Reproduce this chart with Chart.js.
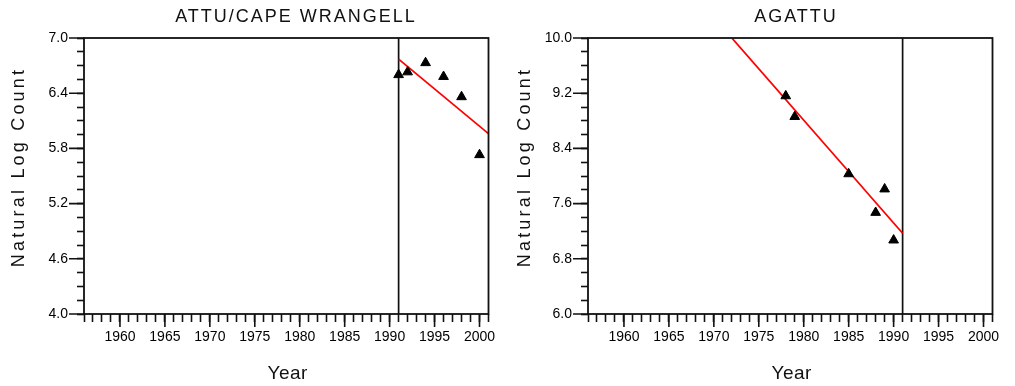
<!DOCTYPE html>
<html>
<head>
<meta charset="utf-8">
<script src="https://cdn.jsdelivr.net/npm/chart.js@4.4.1/dist/chart.umd.min.js"></script>
<style>
  html, body { margin: 0; padding: 0; background: #fff; }
  #wrap { position: relative; width: 1015px; height: 386px; overflow: hidden; background: #fff; }
  canvas { position: absolute; top: 0; }
  #attu { left: 0; }
  #agattu { left: 504px; }
</style>
</head>
<body>
<div id="wrap">
  <canvas id="attu" width="505" height="386"></canvas>
  <canvas id="agattu" width="511" height="386"></canvas>
</div>
<script>
// Attu / Cape Wrangell: natural log of survey counts by year, with fitted trend
const attuYears = [1991, 1992, 1994, 1996, 1998, 2000];
const attuLogCounts = [6.60, 6.63, 6.73, 6.58, 6.36, 5.73];
const attuFitYears = [1991, 2001];
const attuFitValues = [6.77, 5.96];

// Agattu: natural log of survey counts by year, with fitted trend
const agattuYears = [1978, 1979, 1985, 1988, 1989, 1990];
const agattuLogCounts = [9.16, 8.86, 8.03, 7.47, 7.81, 7.07];
const agattuFitYears = [1972, 1991];
const agattuFitValues = [10.0, 7.17];

// Shared year axis and reference year
const breakYear = 1991;
const yearRange = [1956, 2001];
const yearTickLabels = ['1960', '1965', '1970', '1975', '1980', '1985', '1990', '1995', '2000'];

// Value axes
const attuRange = [4.0, 7.0];
const attuTickLabels = ['4.0', '4.6', '5.2', '5.8', '6.4', '7.0'];
const agattuRange = [6.0, 10.0];
const agattuTickLabels = ['6.0', '6.8', '7.6', '8.4', '9.2', '10.0'];

const INK = '#111';
const FONT = '"Liberation Sans", Arial, Helvetica, sans-serif';

function pts(xs, ys) {
  return xs.map((x, i) => ({ x: x, y: ys[i] }));
}

// Box frame, longer major ticks, titles and axis titles
const decorations = {
  id: 'decorations',
  afterDraw(chart, args, opts) {
    const ctx = chart.ctx;
    const a = chart.chartArea;
    const xs = chart.scales.x, ys = chart.scales.y;
    ctx.save();
    ctx.strokeStyle = INK;
    ctx.lineWidth = 1.8;
    ctx.strokeRect(a.left, a.top, a.right - a.left, a.bottom - a.top);

    ctx.lineWidth = 1.6;
    ctx.beginPath();
    xs.ticks.forEach((t, i) => {
      if (t.label) {
        const p = xs.getPixelForTick(i);
        ctx.moveTo(p, a.bottom);
        ctx.lineTo(p, a.bottom + 13);
      }
    });
    ys.ticks.forEach((t, i) => {
      if (t.label) {
        const p = ys.getPixelForTick(i);
        ctx.moveTo(a.left, p);
        ctx.lineTo(a.left - 15, p);
      }
    });
    ctx.stroke();

    ctx.fillStyle = INK;
    ctx.textAlign = 'center';
    ctx.textBaseline = 'middle';

    ctx.font = '18px ' + FONT;
    ctx.letterSpacing = '2px';
    ctx.fillText(opts.title, opts.titleX, 17);

    ctx.font = '19px ' + FONT;
    ctx.letterSpacing = '0.5px';
    ctx.fillText('Year', (a.left + a.right) / 2 + 1.5, 374);

    ctx.font = '18px ' + FONT;
    ctx.letterSpacing = '3.2px';
    ctx.translate(opts.yTitleX, 167);
    ctx.rotate(-Math.PI / 2);
    ctx.fillText('Natural Log Count', 0, 0);
    ctx.restore();
  }
};

function makeChart(id, cfg) {
  const step = (cfg.range[1] - cfg.range[0]) / 20;
  return new Chart(document.getElementById(id), {
    type: 'scatter',
    data: {
      datasets: [
        {
          label: 'Counts',
          data: pts(cfg.years, cfg.values),
          pointStyle: 'triangle',
          pointRadius: 5.6,
          pointBackgroundColor: '#000',
          pointBorderColor: '#000',
          pointBorderWidth: 1,
          showLine: false
        },
        {
          label: 'Trend',
          data: pts(cfg.fitYears, cfg.fitValues),
          showLine: true,
          borderColor: '#ff0000',
          borderWidth: 1.8,
          pointRadius: 0
        },
        {
          label: 'Break',
          data: pts([breakYear, breakYear], cfg.range),
          showLine: true,
          borderColor: INK,
          borderWidth: 1.7,
          pointRadius: 0
        }
      ]
    },
    options: {
      responsive: false,
      maintainAspectRatio: false,
      animation: false,
      devicePixelRatio: 1,
      layout: { padding: { top: 38, right: cfg.padRight, bottom: 0, left: 0 } },
      plugins: {
        legend: { display: false },
        tooltip: { enabled: false },
        title: { display: false },
        decorations: { title: cfg.title, titleX: cfg.titleX, yTitleX: cfg.yTitleX }
      },
      scales: {
        x: {
          type: 'linear',
          min: yearRange[0],
          max: yearRange[1],
          afterFit(scale) { scale.height = 72; },
          border: { display: false },
          grid: {
            display: true,
            drawOnChartArea: false,
            drawTicks: true,
            tickLength: 8,
            tickWidth: 1.6,
            tickColor: INK
          },
          ticks: {
            stepSize: 1,
            maxTicksLimit: 100,
            autoSkip: false,
            maxRotation: 0,
            minRotation: 0,
            padding: 7,
            color: '#000',
            font: { family: FONT, size: 14 },
            callback: (v) => {
              const s = String(Math.round(v));
              return yearTickLabels.includes(s) ? s : '';
            }
          }
        },
        y: {
          type: 'linear',
          min: cfg.range[0],
          max: cfg.range[1],
          afterFit(scale) { scale.width = 84; },
          border: { display: false },
          grid: {
            display: true,
            drawOnChartArea: false,
            drawTicks: true,
            tickLength: 7,
            tickWidth: 1.6,
            tickColor: INK
          },
          ticks: {
            stepSize: step,
            maxTicksLimit: 100,
            autoSkip: false,
            padding: 9,
            color: '#000',
            font: { family: FONT, size: 14 },
            callback: (v, i) => (i % 4 === 0 ? cfg.tickLabels[i / 4] : '')
          }
        }
      }
    },
    plugins: [decorations]
  });
}

makeChart('attu', {
  title: 'ATTU/CAPE WRANGELL',
  titleX: 296,
  yTitleX: 19,
  years: attuYears,
  values: attuLogCounts,
  fitYears: attuFitYears,
  fitValues: attuFitValues,
  range: attuRange,
  tickLabels: attuTickLabels,
  padRight: 16.5
});

makeChart('agattu', {
  title: 'AGATTU',
  titleX: 292,
  yTitleX: 21,
  years: agattuYears,
  values: agattuLogCounts,
  fitYears: agattuFitYears,
  fitValues: agattuFitValues,
  range: agattuRange,
  tickLabels: agattuTickLabels,
  padRight: 22.5
});
</script>
</body>
</html>
